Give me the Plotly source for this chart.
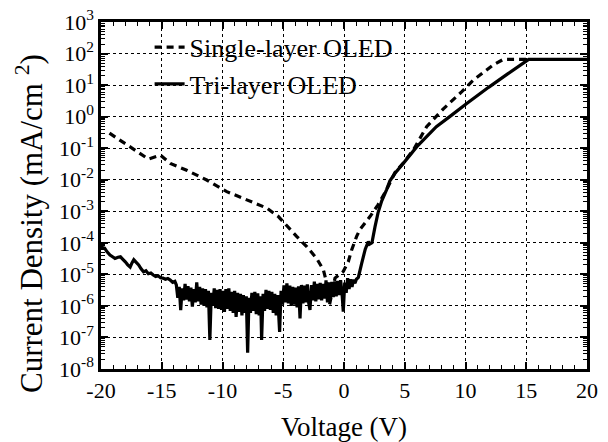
import plotly.graph_objects as go

# ---------------- data ----------------
V_single = [-19.3, -18.45, -17.6, -16.1, -15.1, -14.3, -12.95, -11.3, -9.65, -8.0,
            -6.35, -5.4, -3.9, -3.07, -2.25, -1.7, -1.42, -1.3, -1.2, -0.74,
            -0.06, 0.35, 0.63, 1.04, 1.3, 2.14, 2.8, 3.5, 4.2, 4.88,
            5.7, 6.8, 8.2, 9.7, 10.65, 12.3, 13.1, 15.2]
J_single = [3.0e-1, 1.8e-1, 1.1e-1, 4.5e-2, 6.0e-2, 3.3e-2, 2.0e-2, 9.8e-3, 4.2e-3, 2.3e-3,
            1.26e-3, 6.8e-4, 1.6e-4, 7.6e-5, 3.2e-5, 1.4e-5, 5.2e-6, 2.0e-6, 1.05e-6, 7.6e-6,
            1.23e-5, 2.5e-5, 5.9e-5, 1.6e-4, 2.6e-4, 6.8e-4, 1.6e-3, 4.8e-3, 1.7e-2, 3.4e-2,
            8.7e-2, 4.8e-1, 1.8, 6.2, 14.5, 44.0, 65.0, 65.0]

V_tri = [-20.0, -19.9, -19.7, -19.5, -19.26, -19.05, -18.85, -18.6, -18.4, -18.2,
         -18.0, -17.8, -17.6, -17.45, -17.3, -17.1, -16.9, -16.7, -16.5, -16.3,
         -16.1, -15.9, -15.7, -15.5, -15.3, -15.1, -14.9, -14.7, -14.5, -14.3,
         -14.1, -13.92,
         -13.80, -13.68, -13.56, -13.44, -13.32, -13.20, -13.08, -12.96, -12.84, -12.72,
         -12.60, -12.48, -12.36, -12.24, -12.12, -12.00, -11.88, -11.76, -11.64, -11.52,
         -11.40, -11.28, -11.16, -11.04, -10.92, -10.80, -10.68, -10.56, -10.44, -10.32,
         -10.20, -10.08, -9.96, -9.84, -9.72, -9.60, -9.48, -9.36, -9.24, -9.12,
         -9.00, -8.88, -8.76, -8.64, -8.52, -8.40, -8.28, -8.16, -8.04, -7.93,
         -7.82, -7.70, -7.58, -7.46, -7.34, -7.22, -7.10, -6.98, -6.86, -6.78,
         -6.66, -6.54, -6.42, -6.30, -6.18, -6.06, -5.94, -5.82, -5.70, -5.58,
         -5.46, -5.30, -5.18, -5.06, -4.94, -4.82, -4.70, -4.58, -4.46, -4.34,
         -4.22, -4.10, -3.98, -3.86, -3.74, -3.62, -3.50, -3.38, -3.26, -3.14,
         -3.02, -2.90, -2.80, -2.68, -2.56, -2.44, -2.32, -2.20, -2.08, -1.96,
         -1.84, -1.72, -1.60, -1.48, -1.36, -1.24, -1.12, -1.00, -0.88, -0.76,
         -0.64, -0.52, -0.40, -0.28, -0.16, -0.06, 0.06, 0.18, 0.30, 0.42,
         0.54, 0.66, 0.78, 0.90, 1.02, 1.18,
         1.45, 1.75, 2.0, 2.1, 2.3, 2.55, 2.8, 3.1, 3.5, 3.78,
         4.2, 4.88, 5.98, 7.6, 8.7, 10.1, 11.9, 13.5, 15.2, 20.0]
J_tri = [1.0e-4, 7.0e-5, 6.8e-5, 5.2e-5, 4.1e-5, 3.6e-5, 3.2e-5, 3.5e-5, 3.6e-5, 3.0e-5,
         2.5e-5, 2.0e-5, 1.7e-5, 2.3e-5, 2.9e-5, 2.4e-5, 2.0e-5, 1.5e-5, 1.2e-5, 1.3e-5,
         1.05e-5, 1.1e-5, 9.5e-6, 8.5e-6, 9.0e-6, 7.8e-6, 7.6e-6, 7.0e-6, 7.4e-6, 6.6e-6,
         5.6e-6, 6.0e-6,
         4.6e-6, 1.8e-6, 4.0e-6, 7.4e-7, 3.6e-6, 1.5e-6, 5.0e-6, 1.6e-6, 4.2e-6, 1.4e-6,
         3.8e-6, 9.5e-7, 3.4e-6, 1.3e-6, 5.6e-6, 1.4e-6, 4.0e-6, 1.1e-6, 3.6e-6, 1.0e-6,
         3.4e-6, 9.0e-7, 3.0e-6, 8.3e-8, 2.6e-6, 1.0e-6, 3.6e-6, 8.5e-7, 3.2e-6, 8.0e-7,
         3.4e-6, 7.5e-7, 3.0e-6, 6.5e-7, 3.4e-6, 8.0e-7, 3.6e-6, 7.0e-7, 2.8e-6, 6.0e-7,
         3.0e-6, 4.5e-7, 2.6e-6, 6.5e-7, 2.4e-6, 5.0e-7, 2.2e-6, 6.0e-7, 2.0e-6, 3.3e-8,
         1.8e-6, 6.0e-7, 2.6e-6, 7.0e-7, 2.8e-6, 5.5e-7, 2.5e-6, 5.0e-7, 2.0e-6, 8.3e-8,
         2.4e-6, 7.0e-7, 3.2e-6, 8.0e-7, 3.0e-6, 7.5e-7, 2.8e-6, 6.0e-7, 2.4e-6, 5.0e-7,
         2.2e-6, 1.5e-7, 3.0e-6, 1.1e-6, 4.5e-6, 1.3e-6, 5.2e-6, 1.2e-6, 4.4e-6, 1.0e-6,
         4.0e-6, 1.1e-6, 3.8e-6, 9.0e-7, 4.2e-6, 4.0e-7, 4.6e-6, 1.2e-6, 4.4e-6, 1.3e-6,
         4.8e-6, 1.2e-6, 7.4e-7, 4.6e-6, 1.5e-6, 5.9e-6, 1.4e-6, 5.0e-6, 1.6e-6, 5.4e-6,
         1.5e-6, 5.0e-6, 1.7e-6, 6.4e-6, 1.3e-6, 5.6e-6, 1.8e-6, 5.8e-6, 1.9e-6, 6.0e-6,
         2.0e-6, 6.2e-6, 2.2e-6, 6.6e-6, 2.4e-6, 6.6e-7, 5.5e-6, 2.6e-6, 7.6e-6, 3.4e-6,
         7.0e-6, 4.0e-6, 6.8e-6, 5.2e-6, 7.0e-6, 8.0e-6,
         2.2e-5, 6.3e-5, 1.1e-4, 9.0e-5, 1.0e-4, 3.2e-4, 8.9e-4, 2.1e-3, 4.8e-3, 9.3e-3,
         1.6e-2, 3.3e-2, 1.1e-1, 4.8e-1, 1.0, 2.6, 8.5, 23.0, 65.0, 65.0]

x_tick_vals = [-20, -15, -10, -5, 0, 5, 10, 15, 20]
x_tick_text = ["-20", "-15", "-10", "-5", "0", "5", "10", "15", "20"]
y_tick_vals = [1e-8, 1e-7, 1e-6, 1e-5, 1e-4, 1e-3, 1e-2, 1e-1, 1e0, 1e1, 1e2, 1e3]
y_tick_text = ["10<sup>-8</sup>", "10<sup>-7</sup>", "10<sup>-6</sup>", "10<sup>-5</sup>",
               "10<sup>-4</sup>", "10<sup>-3</sup>", "10<sup>-2</sup>", "10<sup>-1</sup>",
               "10<sup>0</sup>", "10<sup>1</sup>", "10<sup>2</sup>", "10<sup>3</sup>"]

FONT = "Liberation Serif, Times New Roman, serif"

fig = go.Figure()
fig.add_trace(go.Scatter(x=V_single, y=J_single, mode="lines", name="Single-layer OLED",
                         line=dict(color="black", width=3.2, dash="7px,5px", simplify=False)))
fig.add_trace(go.Scatter(x=V_tri, y=J_tri, mode="lines", name="Tri-layer OLED",
                         line=dict(color="black", width=3.2, simplify=False)))

axis_common = dict(
    showline=True, linewidth=2.5, linecolor="black", mirror="allticks",
    ticks="inside", ticklen=7, tickwidth=1.5, tickcolor="black",
    showgrid=True, gridcolor="black", gridwidth=1, griddash="dot",
    zeroline=False, automargin=False,
    tickfont=dict(family=FONT, size=22, color="black"),
)

fig.update_layout(
    width=608, height=442,
    margin=dict(l=101, r=21, t=22, b=73, autoexpand=False),
    paper_bgcolor="white", plot_bgcolor="white",
    font=dict(family=FONT, color="black"),
    xaxis=dict(range=[-20, 20], tickvals=x_tick_vals, ticktext=x_tick_text,
               minor=dict(ticks="inside", ticklen=4, dtick=1, tick0=0, tickcolor="black",
                          tickwidth=1.2, showgrid=False),
               title=dict(text="Voltage (V)", font=dict(family=FONT, size=27), standoff=23),
               **axis_common),
    yaxis=dict(type="log", range=[-8, 3], tickvals=y_tick_vals, ticktext=y_tick_text,
               minor=dict(ticks="inside", ticklen=4, dtick="D1", tickcolor="black",
                          tickwidth=1.2, showgrid=False),
               **axis_common),
    legend=dict(x=0.1, y=0.995, xanchor="left", yanchor="top",
                bgcolor="rgba(0,0,0,0)", borderwidth=0,
                font=dict(family=FONT, size=26, color="black"),
                tracegroupgap=0),
    showlegend=True,
    annotations=[dict(text="Current Density (mA/cm <sup>2</sup>)", textangle=-90,
                      xref="paper", yref="paper", x=-0.146, y=0.418,
                      xanchor="center", yanchor="middle", showarrow=False,
                      font=dict(family=FONT, size=31, color="black"))],
)

fig.write_html("out.html")
